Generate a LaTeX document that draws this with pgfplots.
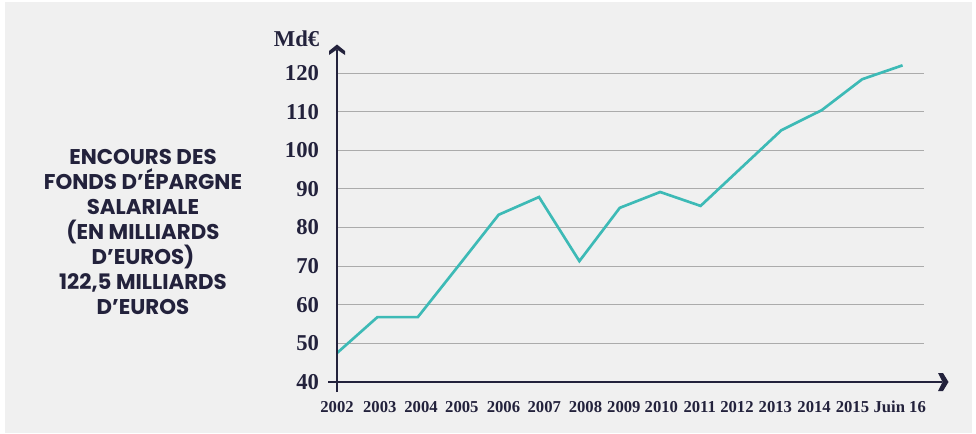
\documentclass[border=0pt]{standalone}
\usepackage{fontspec}
\setmainfont{Liberation Serif}
\newfontfamily\popp{Poppins}
\usepackage{pgfplots}
\pgfplotsset{compat=1.18}
\definecolor{navy}{HTML}{23223C}
\definecolor{teal2}{HTML}{3DBAB6}
\definecolor{bg}{HTML}{F0F0F0}
\definecolor{gridc}{HTML}{ABABAB}
\begin{document}
\begin{tikzpicture}
\begin{scope}[x=0.75pt,y=-0.75pt]
\fill[white] (0,0) rectangle (976,433);
\fill[bg] (5,2) rectangle (972,433);
\node[font=\popp\bfseries\fontsize{16}{18.75}\selectfont, text=navy, align=center] at (143,232)
{ENCOURS DES\\FONDS D’ÉPARGNE\\SALARIALE\\(EN MILLIARDS\\D’EUROS)\\122,5 MILLIARDS\\D’EUROS};
\node[font=\bfseries\fontsize{17}{17}\selectfont, text=navy, anchor=base east] at (324,46) {Md€};
\end{scope}
\begin{axis}[
  at={(252.75pt,-286.5pt)}, anchor=south west,
  scale only axis, width=440.25pt, height=252pt,
  xmin=0, xmax=14.53, ymin=40, ymax=127,
  axis line style={draw=none},
  major tick length=0pt,
  ytick={50,60,...,120},
  extra y ticks={40}, extra y tick style={grid=none},
  ymajorgrids, grid style={gridc, line width=0.75pt},
  xtick={0,1.06,2.08,3.09,4.12,5.13,6.15,7.10,8.03,8.98,9.90,10.85,11.81,12.76,13.93},
  xticklabels={2002,2003,2004,2005,2006,2007,2008,2009,2010,2011,2012,2013,2014,2015,Juin 16},
  /pgf/number format/assume math mode=true,
  /pgf/number format/1000 sep={},
  yticklabel style={font=\bfseries\fontsize{17}{17}\selectfont, text=navy, anchor=east, xshift=-10pt},
  xticklabel style={font=\bfseries\fontsize{12.5}{12.5}\selectfont, text=navy, anchor=north, yshift=-11pt},
  clip=false,
]
\addplot[teal2, line width=2pt, line join=miter, mark=none] coordinates {
(0,47.5) (1,56.8) (2,56.8) (3,70.0) (4,83.3) (5,87.9) (6,71.3) (7,85.1)
(8,89.2) (9,85.6) (10,95.4) (11,105.2) (12,110.4) (13,118.4) (14,122.0)
};
\end{axis}
\begin{scope}[x=0.75pt,y=-0.75pt]
\draw[navy, line width=1.3pt] (337,392) -- (337,50);
\draw[navy, line width=1.3pt] (328,382) -- (942,382);
\fill[navy] (329,55) -- (329,51) -- (337,44.5) -- (345,51) -- (345,55) -- (337,49.5) -- cycle;
\fill[navy] (938,373) -- (943,373) -- (948.5,382) -- (943,391) -- (938,391) -- (942.5,382) -- cycle;
\end{scope}
\end{tikzpicture}
\end{document}
